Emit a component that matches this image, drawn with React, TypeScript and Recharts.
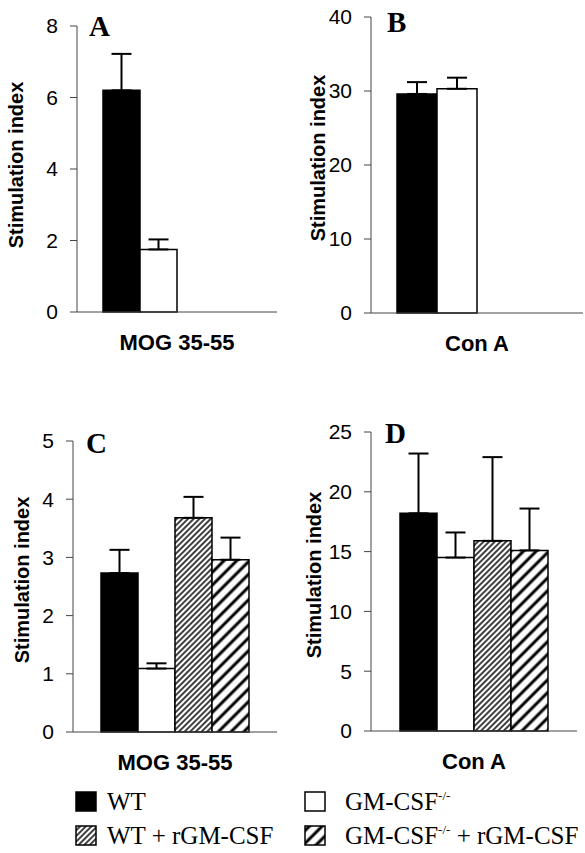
import { BarChart, Bar, XAxis, YAxis, ErrorBar } from 'recharts'

// groups, in legend order
const groups = ['WT', 'GM-CSF-/-', 'WT + rGM-CSF', 'GM-CSF-/- + rGM-CSF']
const seriesKeys = ['wt', 'ko', 'wtR', 'koR']
const fills = ['#000', '#fff', 'url(#hatchFine)', 'url(#hatchWide)']

// A: MOG 35-55, no rGM-CSF
const meanA = [6.2, 1.75, null, null]
const semA = [1.02, 0.28, null, null]
// B: Con A, no rGM-CSF
const meanB = [29.6, 30.3, null, null]
const semB = [1.6, 1.5, null, null]
// C: MOG 35-55 with rGM-CSF
const meanC = [2.73, 1.09, 3.68, 2.96]
const semC = [0.4, 0.09, 0.36, 0.38]
// D: Con A with rGM-CSF
const meanD = [18.2, 14.5, 15.9, 15.1]
const semD = [5.0, 2.1, 7.0, 3.5]

const ticksA = [0, 2, 4, 6, 8]
const ticksB = [0, 10, 20, 30, 40]
const ticksC = [0, 1, 2, 3, 4, 5]
const ticksD = [0, 5, 10, 15, 20, 25]

const sans = '"Liberation Sans", Arial, sans-serif'
const serif = '"Liberation Serif", "Times New Roman", serif'

const makeRow = (name: string, means: (number | null)[], sems: (number | null)[]) => {
  const row: Record<string, any> = { name }
  seriesKeys.forEach((k, i) => {
    row[k] = means[i]
    row[k + 'Err'] = sems[i] == null ? null : [0, sems[i]]
  })
  return [row]
}

interface PanelProps {
  left: number
  top: number
  width: number
  height: number
  margin: { top: number; right: number; left: number; bottom: number }
  yWidth: number
  xHeight: number
  ticks: number[]
  barSize: number
  data: Record<string, any>[]
  sems: (number | null)[]
}

function XTick({ x, y, payload }: any) {
  return (
    <text x={x} y={y + 38} textAnchor="middle" fontFamily={sans} fontWeight="bold" fontSize={22} fill="#000">
      {payload.value}
    </text>
  )
}

function Panel(p: PanelProps) {
  const max = p.ticks[p.ticks.length - 1]
  return (
    <div style={{ position: 'absolute', left: p.left, top: p.top }}>
      <BarChart width={p.width} height={p.height} data={p.data} margin={p.margin} barGap={0}>
        <XAxis
          dataKey="name"
          height={p.xHeight}
          tickSize={0}
          tickMargin={0}
          tickLine={false}
          axisLine={{ stroke: '#444', strokeWidth: 1 }}
          tick={<XTick />}
        />
        <YAxis
          width={p.yWidth}
          domain={[0, max]}
          ticks={p.ticks}
          interval={0}
          tickSize={7}
          tickMargin={12}
          axisLine={{ stroke: '#444', strokeWidth: 1 }}
          tickLine={{ stroke: '#444', strokeWidth: 1 }}
          tick={{ fill: '#000', fontSize: 21, fontFamily: sans }}
        />
        {seriesKeys.map((k, i) => (
          <Bar
            key={k}
            dataKey={k}
            fill={fills[i]}
            stroke="#000"
            strokeWidth={1.5}
            barSize={p.barSize}
            isAnimationActive={false}
          >
            {p.sems[i] != null && (
              <ErrorBar dataKey={k + 'Err'} width={10} strokeWidth={2} stroke="#000" direction="y" />
            )}
          </Bar>
        ))}
      </BarChart>
    </div>
  )
}

function YTitle({ x, y }: { x: number; y: number }) {
  return (
    <text
      transform={`translate(${x},${y}) rotate(-90)`}
      textAnchor="middle"
      dominantBaseline="central"
      fontFamily={sans}
      fontWeight="bold"
      fontSize={20}
      fill="#000"
    >
      Stimulation index
    </text>
  )
}

function Letter({ x, y, t }: { x: number; y: number; t: string }) {
  return (
    <text x={x} y={y} fontFamily={serif} fontWeight="bold" fontSize={29} fill="#000">
      {t}
    </text>
  )
}

function LegendLabel({ x, y, label }: { x: number; y: number; label: string }) {
  // render "-/-" as superscript
  const parts = label.split('-/-')
  return (
    <text x={x} y={y} fontFamily={serif} fontSize={25} fill="#000">
      {parts.map((s, i) => (
        <tspan key={i}>
          {s}
          {i < parts.length - 1 && (
            <tspan dy={-10} fontSize={13}>
              -/-
            </tspan>
          )}
          {i < parts.length - 1 && <tspan dy={10}> </tspan>}
        </tspan>
      ))}
    </text>
  )
}

export default function App() {
  const legendPos = [
    { x: 76, y: 792 },
    { x: 305, y: 792 },
    { x: 76, y: 826 },
    { x: 305, y: 826 }
  ]
  return (
    <div style={{ position: 'absolute', left: 0, top: 0, width: 585, height: 853, background: '#fff' }}>
      <Panel
        left={0} top={0} width={290} height={360}
        margin={{ top: 26, right: 13, left: 0, bottom: 0 }}
        yWidth={77} xHeight={48} ticks={ticksA} barSize={37}
        data={makeRow('MOG 35-55', meanA, semA)} sems={semA}
      />
      <Panel
        left={290} top={0} width={295} height={360}
        margin={{ top: 17, right: 2, left: 0, bottom: 0 }}
        yWidth={81} xHeight={47} ticks={ticksB} barSize={40}
        data={makeRow('Con A', meanB, semB)} sems={semB}
      />
      <Panel
        left={0} top={400} width={290} height={380}
        margin={{ top: 41, right: 13, left: 0, bottom: 0 }}
        yWidth={73} xHeight={48} ticks={ticksC} barSize={37}
        data={makeRow('MOG 35-55', meanC, semC)} sems={semC}
      />
      <Panel
        left={290} top={400} width={295} height={380}
        margin={{ top: 32, right: 8, left: 0, bottom: 0 }}
        yWidth={81} xHeight={49} ticks={ticksD} barSize={37}
        data={makeRow('Con A', meanD, semD)} sems={semD}
      />
      <svg
        width={585}
        height={853}
        style={{ position: 'absolute', left: 0, top: 0, pointerEvents: 'none' }}
      >
        <defs>
          <pattern id="hatchFine" width={4} height={4} patternUnits="userSpaceOnUse" patternTransform="rotate(45)">
            <rect width={4} height={4} fill="#fff" />
            <line x1={1} y1={0} x2={1} y2={4} stroke="#000" strokeWidth={1.5} />
          </pattern>
          <pattern id="hatchWide" width={9} height={9} patternUnits="userSpaceOnUse" patternTransform="rotate(45)">
            <rect width={9} height={9} fill="#fff" />
            <line x1={2} y1={0} x2={2} y2={9} stroke="#000" strokeWidth={3} />
          </pattern>
        </defs>
        <YTitle x={16} y={165} />
        <YTitle x={318} y={158} />
        <YTitle x={22} y={580} />
        <YTitle x={314} y={575} />
        <Letter x={89} y={36} t="A" />
        <Letter x={387} y={32} t="B" />
        <Letter x={86} y={453} t="C" />
        <Letter x={385} y={443} t="D" />
        {groups.map((g, i) => (
          <g key={g}>
            <rect
              x={legendPos[i].x}
              y={legendPos[i].y}
              width={20}
              height={19}
              fill={fills[i]}
              stroke="#000"
              strokeWidth={1.5}
            />
            <LegendLabel x={legendPos[i].x + (i % 2 === 0 ? 31 : 40)} y={legendPos[i].y + 18} label={g} />
          </g>
        ))}
      </svg>
    </div>
  )
}
